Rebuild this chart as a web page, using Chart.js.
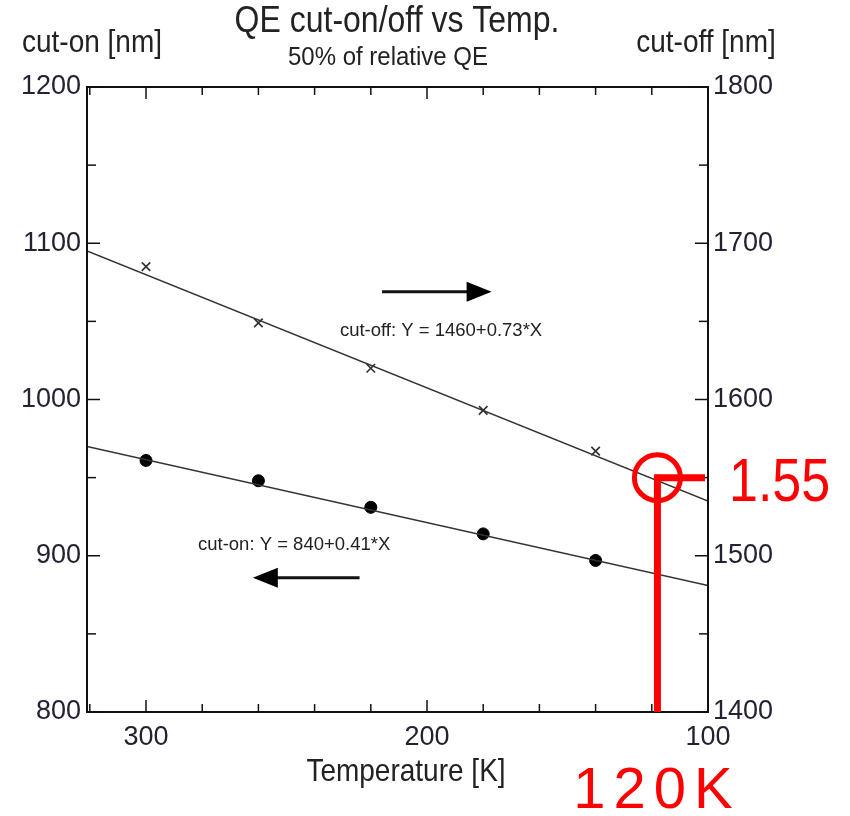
<!DOCTYPE html>
<html>
<head>
<meta charset="utf-8">
<script src="https://cdn.jsdelivr.net/npm/chart.js@4.4.1/dist/chart.umd.min.js"></script>
<style>
  html, body { margin: 0; padding: 0; background: #fff; }
  #wrap { width: 850px; height: 816px; }
</style>
</head>
<body>
<div id="wrap"><canvas id="chart"></canvas></div>
<script>
// measured points (temperature K -> wavelength nm)
const temps = [300, 260, 220, 180, 140];
const cutOn = [961, 948, 931, 914, 897];
const cutOff = [1685, 1649, 1620, 1593, 1567];

// fit line ends, read at the plot edges
const fitX = [321, 100];
const cutOnFit = [970, 881];
const cutOffFit = [1695, 1535];

// axis ticks
const xTicks = [100, 120, 140, 160, 180, 200, 220, 240, 260, 280, 300, 320];
const xLabels = [100, 200, 300];
const leftTicks = [800, 850, 900, 950, 1000, 1050, 1100, 1150, 1200];
const leftLabels = [800, 900, 1000, 1100, 1200];
const rightTicks = [1400, 1450, 1500, 1550, 1600, 1650, 1700, 1750, 1800];
const rightLabels = [1400, 1500, 1600, 1700, 1800];

// red marker: 120K -> 1.55 um
const markT = 118;
const markNm = 1550;

const FONT = "'Liberation Sans', Arial, sans-serif";

function line(ctx, x1, y1, x2, y2) {
  ctx.beginPath();
  ctx.moveTo(x1, y1);
  ctx.lineTo(x2, y2);
  ctx.stroke();
}

function text(ctx, s, x, y, size, align, sy, color, spacing) {
  ctx.save();
  ctx.translate(x, y);
  ctx.scale(1, sy || 1);
  ctx.font = size + 'px ' + FONT;
  ctx.fillStyle = color || '#222';
  ctx.textAlign = align || 'center';
  ctx.textBaseline = 'middle';
  if (spacing) ctx.letterSpacing = spacing + 'px';
  ctx.fillText(s, 0, 0);
  ctx.restore();
}

function arrow(ctx, x1, x2, y) {
  const dir = x2 > x1 ? 1 : -1;
  ctx.lineWidth = 3;
  line(ctx, x1, y, x2 - dir * 20, y);
  ctx.beginPath();
  ctx.moveTo(x2, y);
  ctx.lineTo(x2 - dir * 25, y - 10);
  ctx.lineTo(x2 - dir * 25, y + 10);
  ctx.closePath();
  ctx.fill();
}

const decor = {
  id: 'decor',
  afterDraw(chart) {
    const { ctx, chartArea: a, scales } = chart;
    const x = scales.x, yl = scales.y, yr = scales.y2;
    ctx.save();
    ctx.strokeStyle = '#111';
    ctx.fillStyle = '#000';
    ctx.lineWidth = 2;
    ctx.strokeRect(a.left, a.top, a.right - a.left, a.bottom - a.top);

    // inward ticks on all four sides
    ctx.lineWidth = 1.5;
    xTicks.forEach(v => {
      const px = x.getPixelForValue(v);
      const len = xLabels.includes(v) ? 12 : 8;
      line(ctx, px, a.bottom, px, a.bottom - len);
      line(ctx, px, a.top, px, a.top + len);
    });
    leftTicks.forEach(v => {
      const py = yl.getPixelForValue(v);
      const len = leftLabels.includes(v) ? 13 : 9;
      line(ctx, a.left, py, a.left + len, py);
    });
    rightTicks.forEach(v => {
      const py = yr.getPixelForValue(v);
      const len = rightLabels.includes(v) ? 13 : 9;
      line(ctx, a.right, py, a.right - len, py);
    });

    // direction arrows
    arrow(ctx, x.getPixelForValue(216), x.getPixelForValue(177), yl.getPixelForValue(1069));
    arrow(ctx, x.getPixelForValue(224), x.getPixelForValue(262), yl.getPixelForValue(886));

    // fit equations
    text(ctx, 'cut-off: Y = 1460+0.73*X', x.getPixelForValue(231), yl.getPixelForValue(1044), 18.5, 'left');
    text(ctx, 'cut-on: Y = 840+0.41*X', x.getPixelForValue(281.5), yl.getPixelForValue(907), 18.5, 'left');

    // titles
    text(ctx, 'QE cut-on/off vs Temp.', 397, 22, 32, 'center', 1.15);
    text(ctx, '50% of relative QE', 388, 58, 24, 'center', 1.1);
    text(ctx, 'cut-on [nm]', 92, 43, 28, 'center', 1.15);
    text(ctx, 'cut-off [nm]', 706, 43, 28, 'center', 1.15);
    text(ctx, 'Temperature [K]', 406, 773, 28, 'center', 1.1);

    // red annotation
    const mx = x.getPixelForValue(markT);
    const my = yr.getPixelForValue(markNm);
    ctx.strokeStyle = '#ff0000';
    ctx.fillStyle = '#ff0000';
    ctx.lineWidth = 5;
    ctx.beginPath();
    ctx.arc(mx, my, 23, 0, Math.PI * 2);
    ctx.stroke();
    ctx.lineWidth = 7;
    line(ctx, mx, my - 3, mx, a.bottom);
    line(ctx, mx - 3, my, a.right - 3, my);
    text(ctx, '1.55', 729, 484, 52, 'left', 1.17, '#ff0000');
    text(ctx, '120K', 657, 792, 58, 'center', 1.0, '#ff0000', 8);
    ctx.restore();
  }
};

const tickFont = { family: FONT, size: 27 };
const plain = v => String(v);

new Chart(document.getElementById('chart'), {
  type: 'scatter',
  data: {
    datasets: [
      {
        label: 'cut-on fit',
        data: fitX.map((t, i) => ({ x: t, y: cutOnFit[i] })),
        showLine: true,
        borderColor: '#333',
        borderWidth: 1.5,
        pointRadius: 0,
        yAxisID: 'y'
      },
      {
        label: 'cut-off fit',
        data: fitX.map((t, i) => ({ x: t, y: cutOffFit[i] })),
        showLine: true,
        borderColor: '#333',
        borderWidth: 1.5,
        pointRadius: 0,
        yAxisID: 'y2'
      },
      {
        label: 'cut-on',
        data: temps.map((t, i) => ({ x: t, y: cutOn[i] })),
        pointStyle: 'circle',
        pointRadius: 6,
        backgroundColor: '#000',
        borderColor: '#000',
        yAxisID: 'y'
      },
      {
        label: 'cut-off',
        data: temps.map((t, i) => ({ x: t, y: cutOff[i] })),
        pointStyle: 'crossRot',
        pointRadius: 6,
        borderWidth: 1.7,
        borderColor: '#333',
        yAxisID: 'y2'
      }
    ]
  },
  options: {
    responsive: true,
    maintainAspectRatio: false,
    animation: false,
    layout: { padding: { top: 87, left: 0, right: 0, bottom: 0 } },
    plugins: { legend: { display: false }, tooltip: { enabled: false } },
    scales: {
      x: {
        type: 'linear',
        reverse: true,
        min: 100,
        max: 321,
        grid: { display: false, drawTicks: false },
        border: { display: false },
        afterBuildTicks: s => { s.ticks = xLabels.map(v => ({ value: v })); },
        afterFit: s => { s.height = 104; },
        ticks: { font: tickFont, color: '#223', padding: 9, maxRotation: 0, callback: plain }
      },
      y: {
        position: 'left',
        min: 800,
        max: 1200,
        grid: { display: false, drawTicks: false },
        border: { display: false },
        afterBuildTicks: s => { s.ticks = leftLabels.map(v => ({ value: v })); },
        afterFit: s => { s.width = 87; },
        ticks: { font: tickFont, color: '#223', padding: 6, callback: plain }
      },
      y2: {
        position: 'right',
        min: 1400,
        max: 1800,
        grid: { display: false, drawTicks: false },
        border: { display: false },
        afterBuildTicks: s => { s.ticks = rightLabels.map(v => ({ value: v })); },
        afterFit: s => { s.width = 142; },
        ticks: { font: tickFont, color: '#223', padding: 5, callback: plain }
      }
    }
  },
  plugins: [decor]
});
</script>
</body>
</html>
